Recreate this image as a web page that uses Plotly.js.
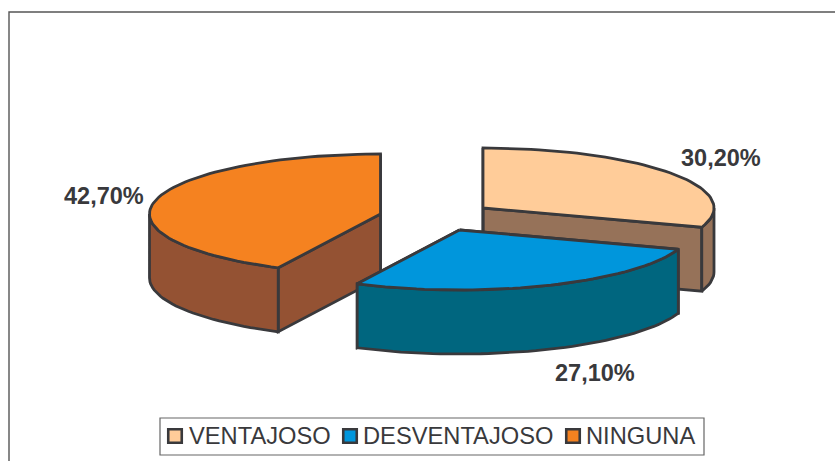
<!DOCTYPE html>
<html>
<head>
<meta charset="utf-8">
<script src="https://cdn.plot.ly/plotly-3.0.1.min.js"></script>
<style>html,body{margin:0;padding:0;background:#fff;overflow:hidden}#chart{width:835px;height:461px}</style>
</head>
<body>
<div id="chart"></div>
<script>
var categories = ["VENTAJOSO", "DESVENTAJOSO", "NINGUNA"];
var shares = [30.2, 27.1, 42.7];
var topColors = ["#FFCC99", "#0096DC", "#F58220"];
var wallColors = ["#967259", "#00667F", "#945233"];

// Slice apex in pixel space (the exploded pie offsets) and label anchors
var apexX = [483, 459.5, 380.5];
var apexY = [208, 230, 214];
var labelX = [721, 595, 104];
var labelY = [158, 373, 196];
var swatchX = [175, 350, 573];
var legendTextX = [187, 361, 583.5];

var RX = 231, RY = 60, DEPTH = 64, STEP = 2;
var INK = "#39393C";

function rim(i, deg, dy) {
  var a = deg * Math.PI / 180;
  return [apexX[i] + RX * Math.sin(a), apexY[i] - RY * Math.cos(a) + (dy || 0)];
}
function arc(i, from, to, dy) {
  var pts = [];
  for (var d = from; d < to; d += STEP) pts.push(rim(i, d, dy));
  pts.push(rim(i, to, dy));
  return pts;
}
function polygon(pts, fill) {
  var x = pts.map(function (p) { return p[0]; });
  var y = pts.map(function (p) { return p[1]; });
  x.push(x[0]); y.push(y[0]);
  return {
    type: "scatter", mode: "lines", x: x, y: y, fill: "toself", fillcolor: fill,
    line: { color: INK, width: 2.8, shape: "linear" }, hoverinfo: "skip", showlegend: false
  };
}
function wallFor(i, deg) {
  var a = [apexX[i], apexY[i]], r = rim(i, deg);
  return polygon([a, r, [r[0], r[1] + DEPTH], [a[0], a[1] + DEPTH]], wallColors[i]);
}

var traces = [];
var annotations = [];
var cum = 0;
var spans = shares.map(function (s) {
  var sp = [cum * 3.6, (cum + s) * 3.6];
  cum += s;
  return sp;
});

[0, 2, 1].forEach(function (i) {
  var from = spans[i][0], to = spans[i][1];
  traces.push(wallFor(i, to));
  traces.push(wallFor(i, from));
  var f = Math.max(from, 90), t = Math.min(to, 270);
  if (t > f) {
    traces.push(polygon(arc(i, f, t).concat(arc(i, f, t, DEPTH).reverse()), wallColors[i]));
  }
  traces.push(polygon([[apexX[i], apexY[i]]].concat(arc(i, from, to)), topColors[i]));
});

traces.push({
  type: "scatter", mode: "markers", x: swatchX, y: [436, 436, 436], hoverinfo: "skip", showlegend: false,
  marker: { symbol: "square", size: 13.5, color: topColors, line: { color: INK, width: 2.6 } }
});

categories.forEach(function (c, i) {
  annotations.push({
    x: labelX[i], y: labelY[i], xref: "x", yref: "y", showarrow: false,
    text: "<b>" + shares[i].toFixed(2).replace(".", ",") + "%</b>",
    font: { family: "Liberation Sans", size: 23.5, color: INK }
  });
  annotations.push({
    x: legendTextX[i], y: 436, xref: "x", yref: "y", showarrow: false, xanchor: "left",
    text: c, font: { family: "Liberation Sans", size: 23.7, color: INK }
  });
});

var layout = {
  width: 835, height: 461, margin: { l: 0, r: 0, t: 0, b: 0 },
  paper_bgcolor: "#fff", plot_bgcolor: "#fff", showlegend: false,
  xaxis: { range: [0, 835], visible: false, fixedrange: true },
  yaxis: { range: [461, 0], visible: false, fixedrange: true },
  annotations: annotations,
  shapes: [
    { type: "rect", xref: "x", yref: "y", x0: 9, y0: 12, x1: 900, y1: 520, layer: "below", line: { color: "#555", width: 1.4 }, fillcolor: "rgba(0,0,0,0)" },
    { type: "rect", xref: "x", yref: "y", x0: 160, y0: 418, x1: 704, y1: 455, layer: "below", line: { color: "#666", width: 1.2 }, fillcolor: "#fff" }
  ]
};
Plotly.newPlot("chart", traces, layout, { displayModeBar: false, staticPlot: true });
</script>
</body>
</html>
